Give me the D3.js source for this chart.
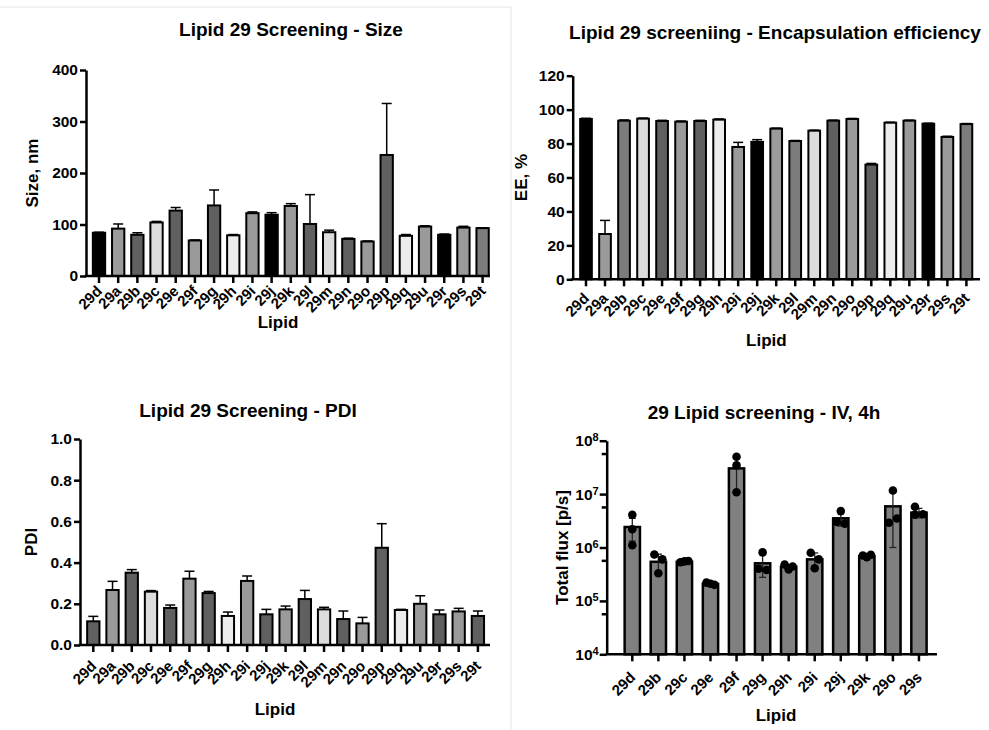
<!DOCTYPE html>
<html>
<head>
<meta charset="utf-8">
<script src="https://cdn.jsdelivr.net/npm/d3@7"></script>
<style>
  body { margin: 0; background: #fff; }
  svg text { font-family: "Liberation Sans", Arial, Helvetica, sans-serif; font-weight: bold; fill: #000; }
</style>
</head>
<body>
<div id="chart"></div>
<script>
// Categories for the size / EE / PDI screens
const lipids = ['29d', '29a', '29b', '29c', '29e', '29f', '29g', '29h', '29i', '29j', '29k',
  '29l', '29m', '29n', '29o', '29p', '29q', '29u', '29r', '29s', '29t'];

// Size, nm (mean and SD)
const sizeMean = [84, 92, 80, 104, 127, 69, 137, 79, 122, 119, 136, 101, 85, 72, 67, 235, 78, 96, 80, 94, 93];
const sizeSd = [1, 9, 4, 2, 6, 1, 30, 1.5, 2.5, 4, 4.5, 57, 4, 1.5, 1, 100, 2.5, 1.5, 1.5, 2.5, 0.5];

// Encapsulation efficiency, %
const eeMean = [94.5, 26.7, 93.5, 94.7, 93.3, 92.9, 93.3, 94.1, 78, 81, 88.8, 81.5, 87.6, 93.5, 94.5, 67.6, 92.3, 93.5, 91.7, 83.9, 91.5];
const eeSd = [0.4, 8, 0.4, 0.3, 0.4, 0.4, 0.4, 0.4, 2.7, 1.3, 0.3, 0.3, 0.3, 0.3, 0.3, 0.7, 0.3, 0.3, 0.3, 0.4, 0.3];

// PDI
const pdiMean = [0.115, 0.267, 0.351, 0.259, 0.18, 0.322, 0.252, 0.141, 0.311, 0.149, 0.173, 0.223, 0.173, 0.126, 0.105, 0.472, 0.17, 0.2, 0.149, 0.163, 0.141];
const pdiSd = [0.024, 0.042, 0.015, 0.005, 0.014, 0.036, 0.008, 0.019, 0.024, 0.024, 0.016, 0.042, 0.01, 0.039, 0.029, 0.117, 0.003, 0.039, 0.021, 0.015, 0.024];

// IV, 4h total flux [p/s]
const fluxLipids = ['29d', '29b', '29c', '29e', '29f', '29g', '29h', '29i', '29j', '29k', '29o', '29s'];
const fluxMean = [2.42e6, 5.4e5, 5.4e5, 2.08e5, 3.03e7, 5.06e5, 4.38e5, 6.0e5, 3.52e6, 6.9e5, 5.9e6, 4.5e6];
const fluxSd = [1.1e6, 2.1e5, 2.5e4, 1e4, 1.97e7, 2.3e5, 4e4, 1.9e5, 1.0e6, 4e4, 4.9e6, 0.9e6];
const fluxPoints = [
  [4.1e6, 2.2e6, 1.1e6],
  [7.4e5, 6.0e5, 3.3e5],
  [5.3e5, 5.6e5, 5.5e5],
  [2.2e5, 2.0e5, 2.1e5],
  [5.0e7, 3.45e7, 1.08e7],
  [8.1e5, 4.0e5, 3.8e5],
  [4.8e5, 4.4e5, 3.9e5],
  [8.0e5, 6.0e5, 4.1e5],
  [4.8e6, 3.0e6, 2.8e6],
  [7.1e5, 7.3e5, 6.6e5],
  [1.17e7, 2.9e6, 3.5e6],
  [5.8e6, 4.2e6, 4.1e6]
];

// Tick values
const sizeTicks = [0, 100, 200, 300, 400];
const eeTicks = [0, 20, 40, 60, 80, 100, 120];
const pdiTicks = [0, 0.2, 0.4, 0.6, 0.8, 1.0];
const fluxTicks = [1e4, 1e5, 1e6, 1e7, 1e8];

// bar fills (GraphPad grey cycle)
const K = '#000', M = '#9a9a9c', D = '#606060', L = '#dcdcdc', VL = '#ececec', G = '#7c7c7c';
const sizeFill = [K, M, D, L, D, M, D, VL, M, K, M, D, L, D, M, D, VL, M, K, M, G];
const eeFill = [K, M, G, L, D, M, D, VL, M, K, M, G, L, D, M, D, VL, M, K, M, G];
const pdiFill = [D, M, D, L, D, M, D, VL, M, D, M, D, L, D, M, D, VL, M, D, M, D];

const W = 989, H = 730;
const svg = d3.select('#chart').append('svg')
  .attr('width', W)
  .attr('height', H);

// faint frame of the pasted panel
svg.append('line').attr('x1', 0).attr('x2', 511).attr('y1', 7).attr('y2', 7)
  .attr('stroke', '#e4e4e4').attr('stroke-width', 1);
svg.append('line').attr('x1', 511).attr('x2', 511).attr('y1', 7).attr('y2', H)
  .attr('stroke', '#e4e4e4').attr('stroke-width', 1);

function styleXLabels(g, dy) {
  g.selectAll('.tick text')
    .attr('x', null).attr('y', null).attr('dy', null)
    .attr('text-anchor', 'end')
    .attr('transform', `translate(4,${dy}) rotate(-45)`)
    .style('font-size', '15px');
}

function barPanel(o) {
  const x = d3.scaleBand()
    .domain(o.cats)
    .range([o.c0 - o.step / 2, o.c0 + o.step * (o.cats.length - 0.5)])
    .paddingInner(1 - o.bw / o.step)
    .paddingOuter((1 - o.bw / o.step) / 2);

  const y = d3.scaleLinear()
    .domain([0, o.ymax])
    .range([o.y0, o.y1]);

  // bars
  svg.append('g').selectAll('rect')
    .data(o.mean)
    .join('rect')
    .attr('x', (d, i) => x(o.cats[i]))
    .attr('y', d => y(d))
    .attr('width', x.bandwidth())
    .attr('height', d => y(0) - y(d))
    .attr('fill', (d, i) => o.fill[i])
    .attr('stroke', '#000')
    .attr('stroke-width', 2);

  // error bars (upper only)
  const eg = svg.append('g').attr('stroke', '#000').attr('stroke-width', 1.5);
  o.mean.forEach((m, i) => {
    const cx = x(o.cats[i]) + x.bandwidth() / 2;
    const top = y(m + o.sd[i]);
    eg.append('line').attr('x1', cx).attr('x2', cx).attr('y1', y(m)).attr('y2', top);
    eg.append('line').attr('x1', cx - 5).attr('x2', cx + 5).attr('y1', top).attr('y2', top);
  });

  // axes
  const yAxis = d3.axisLeft(y)
    .tickValues(o.ticks)
    .tickFormat(o.fmt)
    .tickSize(6)
    .tickSizeOuter(0)
    .tickPadding(2);
  const gy = svg.append('g')
    .attr('transform', `translate(${o.x0},0)`)
    .call(yAxis);
  gy.select('.domain').attr('stroke-width', 2.5);
  gy.selectAll('.tick line').attr('stroke-width', 2.5);
  gy.selectAll('.tick text').style('font-size', '15.5px');

  const xAxis = d3.axisBottom(x).tickSize(7).tickSizeOuter(0);
  const gx = svg.append('g')
    .attr('transform', `translate(0,${o.y0})`)
    .call(xAxis);
  gx.select('.domain').remove();
  gx.selectAll('.tick line').attr('stroke-width', 2.5);
  styleXLabels(gx, o.labelDy);
  svg.append('line')
    .attr('x1', o.x0 - 1.25).attr('x2', o.xEnd)
    .attr('y1', o.y0).attr('y2', o.y0)
    .attr('stroke', '#000').attr('stroke-width', 2.5);

  // titles
  svg.append('text')
    .attr('x', o.titleX).attr('y', o.titleY)
    .attr('text-anchor', 'middle')
    .style('font-size', '19px')
    .text(o.title);
  svg.append('text')
    .attr('transform', `translate(${o.yTitleX},${(o.y0 + o.y1) / 2}) rotate(-90)`)
    .attr('text-anchor', 'middle')
    .style('font-size', '17px')
    .text(o.yTitle);
  svg.append('text')
    .attr('x', (o.x0 + o.xEnd) / 2 + o.xTitleShift).attr('y', o.xTitleY)
    .attr('text-anchor', 'middle')
    .style('font-size', '17px')
    .text('Lipid');
}

barPanel({
  cats: lipids, mean: sizeMean, sd: sizeSd, fill: sizeFill,
  ymax: 400, ticks: sizeTicks, fmt: d3.format('d'),
  x0: 86, xEnd: 490, y0: 276, y1: 70, c0: 99, step: 19.18, bw: 12.3, labelDy: 16,
  title: 'Lipid 29 Screening - Size', titleX: 291, titleY: 36,
  yTitle: 'Size, nm', yTitleX: 38, xTitleY: 328, xTitleShift: -10
});

barPanel({
  cats: lipids, mean: eeMean, sd: eeSd, fill: eeFill,
  ymax: 120, ticks: eeTicks, fmt: d3.format('d'),
  x0: 572.7, xEnd: 980, y0: 279.3, y1: 75.7, c0: 586, step: 19.02, bw: 11.7, labelDy: 20,
  title: 'Lipid 29 screeniing - Encapsulation efficiency', titleX: 775, titleY: 39,
  yTitle: 'EE, %', yTitleX: 527, xTitleY: 346, xTitleShift: -10
});

barPanel({
  cats: lipids, mean: pdiMean, sd: pdiSd, fill: pdiFill,
  ymax: 1, ticks: pdiTicks, fmt: d3.format('.1f'),
  x0: 80, xEnd: 490, y0: 645, y1: 439, c0: 93.3, step: 19.23, bw: 12.3, labelDy: 22,
  title: 'Lipid 29 Screening - PDI', titleX: 248, titleY: 417,
  yTitle: 'PDI', yTitleX: 37, xTitleY: 715, xTitleShift: -10
});

// ---- Flux panel (log scale, individual points) ----
(function () {
  const x0 = 606.7, xEnd = 937, y0 = 654.3, y1 = 440.7;
  const step = 26.06, bw = 15.3, c0 = 632.3;
  const x = d3.scaleBand()
    .domain(fluxLipids)
    .range([c0 - step / 2, c0 + step * (fluxLipids.length - 0.5)])
    .paddingInner(1 - bw / step)
    .paddingOuter((1 - bw / step) / 2);
  const y = d3.scaleLog().domain([1e4, 1e8]).range([y0, y1]);

  svg.append('g').selectAll('rect')
    .data(fluxMean)
    .join('rect')
    .attr('x', (d, i) => x(fluxLipids[i]))
    .attr('y', d => y(d))
    .attr('width', x.bandwidth())
    .attr('height', d => y0 - y(d))
    .attr('fill', '#808080')
    .attr('stroke', '#000')
    .attr('stroke-width', 2.5);

  const eg = svg.append('g').attr('stroke', '#222').attr('stroke-width', 1.3);
  fluxMean.forEach((m, i) => {
    const cx = x(fluxLipids[i]) + x.bandwidth() / 2;
    const lo = y(Math.max(m - fluxSd[i], 1e4));
    const hi = y(m + fluxSd[i]);
    eg.append('line').attr('x1', cx).attr('x2', cx).attr('y1', lo).attr('y2', hi);
    eg.append('line').attr('x1', cx - 3.5).attr('x2', cx + 3.5).attr('y1', hi).attr('y2', hi);
    eg.append('line').attr('x1', cx - 3.5).attr('x2', cx + 3.5).attr('y1', lo).attr('y2', lo);
  });

  // scattered replicates, nudged sideways where they overlap
  const pg = svg.append('g');
  fluxPoints.forEach((pts, i) => {
    const cx = x(fluxLipids[i]) + x.bandwidth() / 2;
    const placed = [];
    pts.forEach(v => {
      const py = y(v);
      let dx = 0;
      const clash = placed.filter(p => Math.abs(p.y - py) < 8);
      if (clash.length === 1) {
        if (clash[0].dx === 0) clash[0].dx = -4;
        dx = -clash[0].dx;
      }
      if (clash.length >= 2) dx = 0;
      placed.push({ y: py, dx: dx });
    });
    placed.forEach(p => {
      pg.append('circle')
        .attr('cx', cx + p.dx).attr('cy', p.y).attr('r', 4.3)
        .attr('fill', '#000');
    });
  });

  // y axis
  const yAxis = d3.axisLeft(y).tickValues(fluxTicks).tickFormat(() => '').tickSize(7).tickSizeOuter(0);
  const gy = svg.append('g').attr('transform', `translate(${x0},0)`).call(yAxis);
  gy.select('.domain').attr('stroke-width', 2.5);
  gy.selectAll('.tick line').attr('stroke-width', 2.5);
  gy.selectAll('.tick text')
    .attr('x', -8)
    .style('font-size', '15.5px')
    .each(function (d) {
      const t = d3.select(this);
      t.append('tspan').text('10');
      t.append('tspan').attr('dy', '-0.45em').style('font-size', '11px').text(Math.round(Math.log10(d)));
    });
  // minor ticks
  const minor = fluxTicks.slice(1).map(v => v / Math.pow(10, 0.25));
  svg.append('g').selectAll('line')
    .data(minor)
    .join('line')
    .attr('x1', x0 - 5).attr('x2', x0)
    .attr('y1', d => y(d)).attr('y2', d => y(d))
    .attr('stroke', '#000').attr('stroke-width', 2.5);

  const gx = svg.append('g').attr('transform', `translate(0,${y0})`)
    .call(d3.axisBottom(x).tickSize(7).tickSizeOuter(0));
  gx.select('.domain').remove();
  gx.selectAll('.tick line').attr('stroke-width', 2.5);
  styleXLabels(gx, 24);
  svg.append('line')
    .attr('x1', x0 - 1.25).attr('x2', xEnd)
    .attr('y1', y0).attr('y2', y0)
    .attr('stroke', '#000').attr('stroke-width', 2.5);

  svg.append('text')
    .attr('x', 764).attr('y', 419)
    .attr('text-anchor', 'middle')
    .style('font-size', '19px')
    .text('29 Lipid screening - IV, 4h');
  svg.append('text')
    .attr('transform', `translate(568,${(y0 + y1) / 2}) rotate(-90)`)
    .attr('text-anchor', 'middle')
    .style('font-size', '17px')
    .text('Total flux [p/s]');
  svg.append('text')
    .attr('x', 776).attr('y', 721)
    .attr('text-anchor', 'middle')
    .style('font-size', '17px')
    .text('Lipid');
})();
</script>
</body>
</html>
